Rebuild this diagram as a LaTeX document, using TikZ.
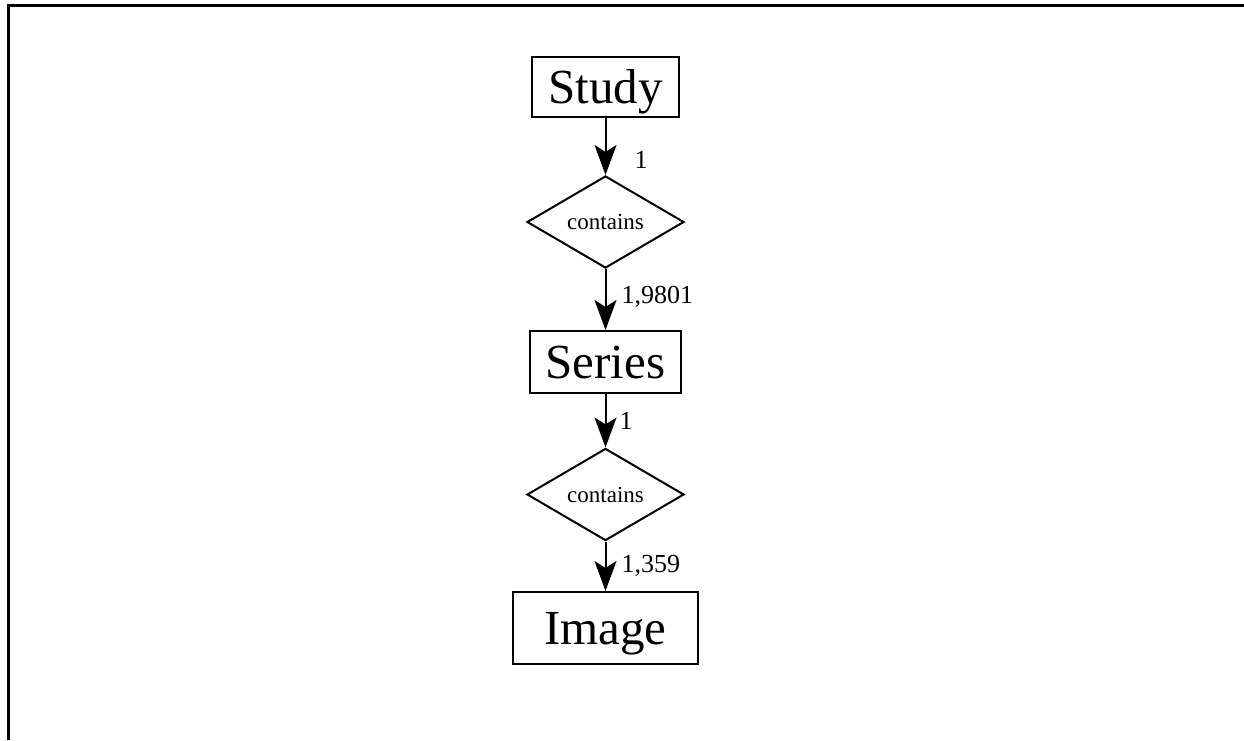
\documentclass[tikz,border=0pt]{standalone}
\usepackage{fontspec}
\setmainfont{Liberation Serif}
\usetikzlibrary{arrows.meta, positioning, shapes.geometric}

\begin{document}
\begin{tikzpicture}[->,>={Stealth[length=30pt,width=22pt,inset=7pt]},x=1pt,y=-1pt,line width=2pt,node distance=135pt]
		\tikzstyle{entity}=[draw=black,rectangle,inner sep=0pt,text height=33pt,text depth=0pt,font=\fontsize{49}{49}\selectfont]
		\tikzstyle{relation}=[draw=black,diamond,inner sep=0pt,minimum width=157pt,minimum height=90pt,font=\fontsize{23}{23}\selectfont]
		\tikzstyle{card}=[anchor=west,inner sep=0pt,font=\fontsize{26}{26}\selectfont]
		
		\useasboundingbox (0,0) rectangle (1244,740);
		\draw[-,line width=3pt] (8,740) -- (8,5.5) -- (1244,5.5);
		
		\node[entity,minimum width=147pt,minimum height=60pt] (study) at (605.5,87) {Study};
		\node[relation] (has1) [below of=study]                         {contains};
		\node[entity,minimum width=151pt,minimum height=62pt] (series) [below of=has1,node distance=140pt] {Series};
		\node[relation] (has2) [below of=series,node distance=132.5pt] {contains};
		\node[entity,minimum width=185pt,minimum height=72pt] (image) [below of=has2,node distance=133.5pt] {Image};
		
		\path (study) edge node[card,pos=.73,xshift=28pt] {1} (has1)
		(has1) edge node[card,pos=.45,xshift=15pt] {1,9801} (series)
		(series) edge node[card,pos=.51,xshift=13pt] {1} (has2)
		(has2) edge node[card,pos=.49,xshift=15pt] {1,359} (image);
	\end{tikzpicture}
\end{document}
